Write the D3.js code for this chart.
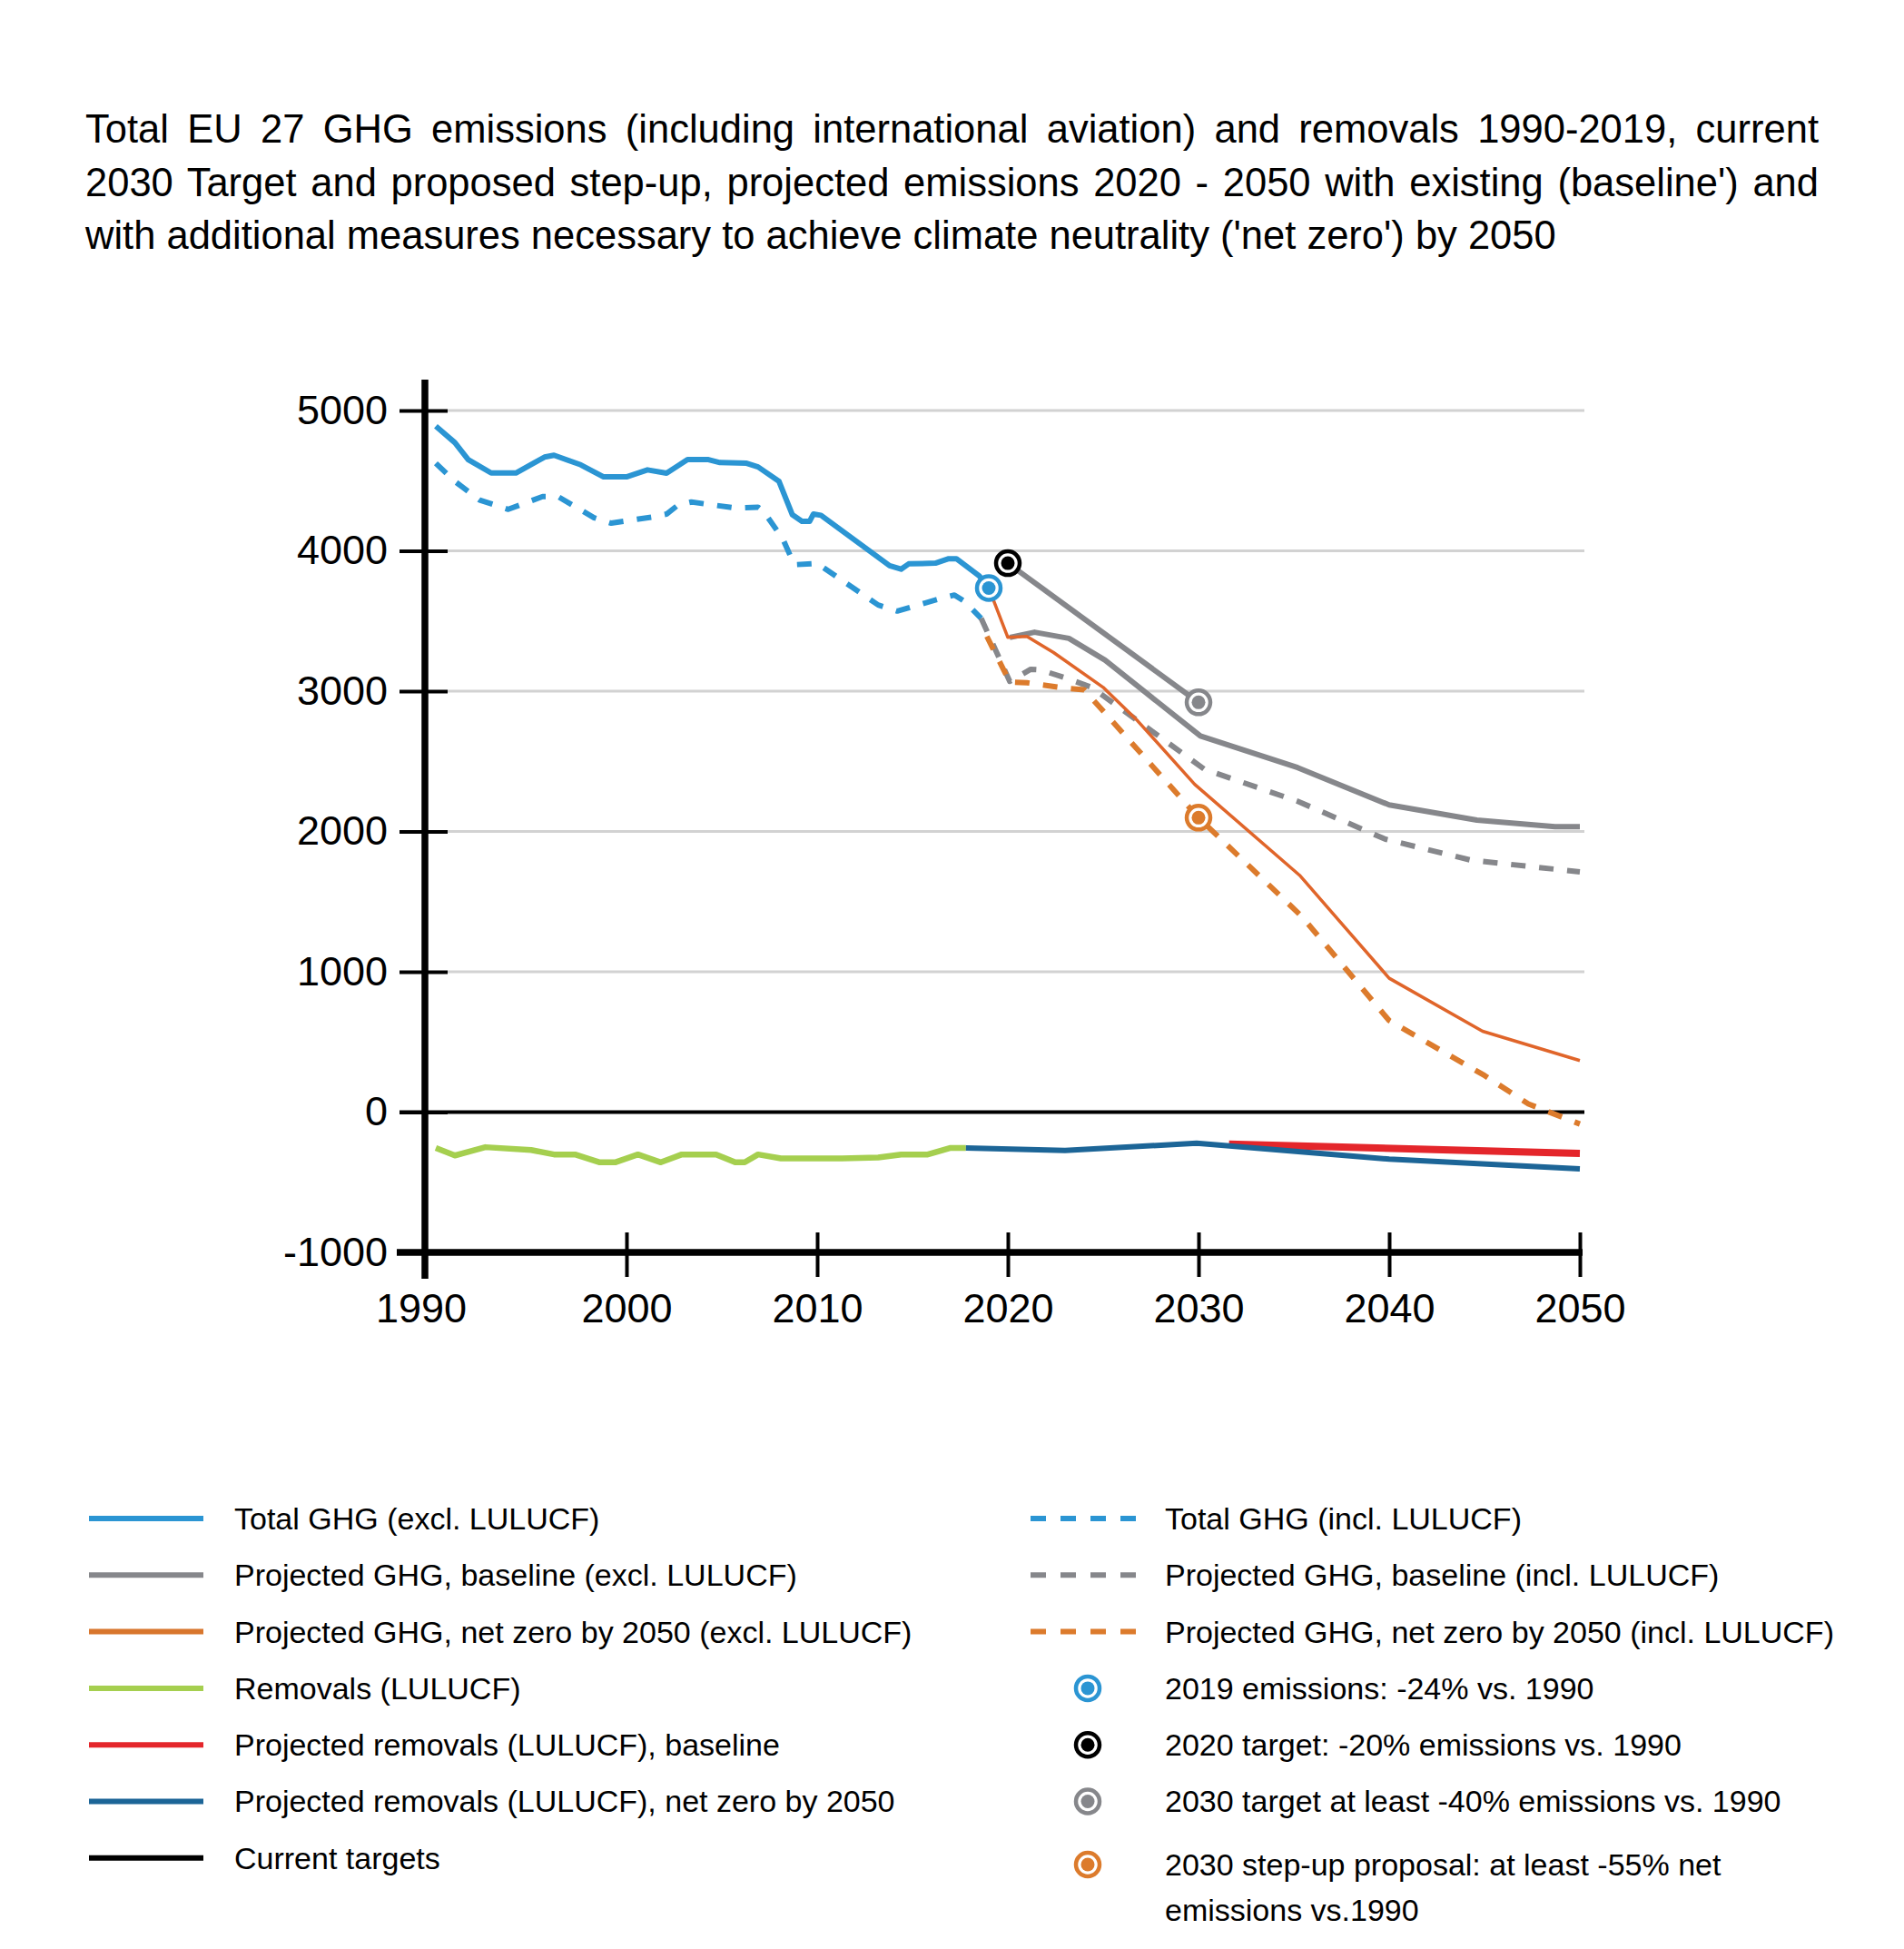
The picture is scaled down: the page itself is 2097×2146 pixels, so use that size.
<!DOCTYPE html>
<html>
<head>
<meta charset="utf-8">
<script src="https://cdn.jsdelivr.net/npm/d3@7"></script>
<style>
  body { margin: 0; background: #fff; }
  svg { display: block; }
  text { font-family: "Liberation Sans", Arial, sans-serif; fill: #000; }
</style>
</head>
<body>
<svg id="chart"></svg>
<script>
const width = 2097;
const height = 2146;

// values, [year, Mt CO2e]
const totalExcl = [[1990, 4888], [1991, 4771], [1991.7, 4650], [1992.9, 4555], [1994.2, 4555], [1995.7, 4668],
  [1996.2, 4681], [1997.6, 4613], [1998.8, 4527], [2000, 4527], [2001.1, 4577], [2002.1, 4553], [2003.2, 4650],
  [2004.3, 4650], [2004.9, 4629], [2006.3, 4624], [2006.9, 4598], [2008, 4495], [2008.7, 4257], [2009.2, 4210],
  [2009.6, 4210], [2009.8, 4262], [2010.2, 4253], [2013.8, 3894], [2014.4, 3869], [2014.8, 3907], [2016.2, 3912],
  [2016.9, 3944], [2017.3, 3944], [2018.5, 3821], [2019, 3735]];
const totalIncl = [[1990, 4624], [1991, 4495], [1992.3, 4361], [1993.8, 4296], [1995.6, 4387], [1996.4, 4387],
  [1998.3, 4236], [1999.2, 4197], [2001.3, 4240], [2002.1, 4262], [2002.7, 4326], [2003.4, 4348], [2005.7, 4305],
  [2006.9, 4311], [2007.2, 4279], [2008.2, 4085], [2008.8, 3901], [2010, 3910], [2013.2, 3614], [2014.2, 3571],
  [2016.3, 3653], [2017.2, 3685], [2017.7, 3642], [2018.6, 3519]];
const baselineExcl = [[2020.1, 3383], [2021.4, 3420], [2023.2, 3376], [2025.1, 3221], [2030.1, 2680],
  [2035.2, 2455], [2040, 2189], [2044.6, 2081], [2048.7, 2034], [2050, 2034]];
const baselineIncl = [[2018.6, 3519], [2020.1, 3070], [2021.2, 3156], [2021.7, 3152], [2023.1, 3091],
  [2024.4, 3027], [2030.3, 2444], [2035.2, 2215], [2039.8, 1945], [2044.3, 1795], [2050, 1712]];
const netZeroExcl = [[2019, 3735], [2020, 3383], [2021, 3390], [2022.4, 3275], [2025, 3027], [2026.8, 2789],
  [2029.8, 2336], [2035.3, 1688], [2040, 954], [2044.9, 576], [2050, 367]];
const netZeroIncl = [[2018.9, 3390], [2020.1, 3065], [2021, 3060], [2023.1, 3020], [2024, 3010], [2030, 2098],
  [2035.4, 1397], [2040, 652], [2045, 261], [2047.3, 58], [2050, -85]];
const removals = [[1990, -255], [1991, -309], [1992.6, -250], [1995, -270], [1996.2, -302], [1997.3, -302],
  [1998.6, -358], [1999.4, -358], [2000.6, -302], [2001.8, -358], [2002.9, -302], [2004.7, -302], [2005.7, -358],
  [2006.2, -358], [2006.9, -302], [2008.1, -330], [2011.3, -330], [2013.2, -323], [2014.4, -302], [2015.8, -302],
  [2017, -255], [2017.8, -255]];
const removalsBaseline = [[2031.6, -228], [2050, -295]];
const removalsNetZero = [[2017.8, -255], [2023, -273], [2029.9, -222], [2040, -335], [2050, -405]];
const currentTargets = [[2020, 3912], [2030, 2920]];
const markerPoints = [[2019, 3735], [2020, 3912], [2030, 2920], [2030, 2098]];

const xTicks = [1990, 2000, 2010, 2020, 2030, 2040, 2050];
const yTicks = [-1000, 0, 1000, 2000, 3000, 4000, 5000];

const titleLines = [
  "Total EU 27 GHG emissions (including international aviation) and removals 1990-2019, current",
  "2030 Target and proposed step-up, projected emissions 2020 - 2050 with existing (baseline') and",
  "with additional measures necessary to achieve climate neutrality ('net zero') by 2050"
];
const legendLeft = ["Total GHG (excl. LULUCF)", "Projected GHG, baseline (excl. LULUCF)",
  "Projected GHG, net zero by 2050 (excl. LULUCF)", "Removals (LULUCF)", "Projected removals (LULUCF), baseline",
  "Projected removals (LULUCF), net zero by 2050", "Current targets"];
const legendRight = ["Total GHG (incl. LULUCF)", "Projected GHG, baseline (incl. LULUCF)",
  "Projected GHG, net zero by 2050 (incl. LULUCF)", "2019 emissions: -24% vs. 1990",
  "2020 target: -20% emissions vs. 1990", "2030 target at least -40% emissions vs. 1990",
  "2030 step-up proposal: at least -55% net|emissions vs.1990"];

const blue = "#2b95d3", grey = "#86878b", orange = "#e0652a", orangeDash = "#dc7b2c",
  green = "#a5cf4f", red = "#e4262b", darkBlue = "#1c6597";

const svg = d3.select('#chart')
    .attr('width', width)
    .attr('height', height);

const x = d3.scaleLinear().domain([1990, 2050]).range([480, 1740]);
const y = d3.scaleLinear().domain([-1000, 5000]).range([1379, 452]);
const axisX = x(1990) - 12;
const plotRight = 1745;

// title, first two lines justified
titleLines.forEach(function(t, i) {
  const el = svg.append('text')
      .attr('x', 94)
      .attr('y', 157 + i * 58.5)
      .style('font-size', '43.5px')
      .text(t);
  if (i < 2) {
    const w = el.node().getComputedTextLength();
    const spaces = t.split(' ').length - 1;
    el.attr('word-spacing', (1909 - w) / spaces);
  }
});

// gridlines
svg.append('g').selectAll('line')
    .data(yTicks.filter(d => d > 0))
    .enter().append('line')
    .attr('x1', axisX + 25).attr('x2', plotRight)
    .attr('y1', d => y(d)).attr('y2', d => y(d))
    .attr('stroke', '#d2d2d2').attr('stroke-width', 3);

// zero line
svg.append('line')
    .attr('x1', axisX - 28).attr('x2', plotRight)
    .attr('y1', y(0)).attr('y2', y(0))
    .attr('stroke', '#000').attr('stroke-width', 4);

// y axis
const yAxis = svg.append('g')
    .attr('transform', 'translate(' + (axisX + 25) + ',0)')
    .call(d3.axisLeft(y).tickValues(yTicks).tickSize(53).tickPadding(13).tickFormat(d => String(d)));
yAxis.select('.domain').remove();
yAxis.selectAll('line').attr('stroke', '#000').attr('stroke-width', 4);
yAxis.selectAll('text').style('font-size', '45px').attr('fill', '#000');
yAxis.attr('font-family', null).attr('font-size', null);

svg.append('line')
    .attr('x1', axisX).attr('x2', axisX)
    .attr('y1', 418).attr('y2', 1408)
    .attr('stroke', '#000').attr('stroke-width', 7.5);

// x axis
svg.append('line')
    .attr('x1', axisX - 31).attr('x2', 1743)
    .attr('y1', y(-1000)).attr('y2', y(-1000))
    .attr('stroke', '#000').attr('stroke-width', 7.5);
const xAxis = svg.append('g')
    .attr('transform', 'translate(0,' + (y(-1000) - 22) + ')')
    .call(d3.axisBottom(x).tickValues(xTicks).tickSize(49).tickPadding(18).tickFormat(d => String(d)));
xAxis.select('.domain').remove();
xAxis.selectAll('line').attr('stroke', '#000').attr('stroke-width', 4);
xAxis.selectAll('text').style('font-size', '45px').attr('fill', '#000');
xAxis.attr('font-family', null).attr('font-size', null);
xAxis.selectAll('.tick').filter(d => d === 1990)
    .attr('transform', 'translate(' + (axisX - 4) + ',0)')
    .select('line').remove();

const line = d3.line()
    .x(d => x(d[0]))
    .y(d => y(d[1]));

const series = [
  {data: removals, color: green, w: 6.5},
  {data: removalsBaseline, color: red, w: 8},
  {data: removalsNetZero, color: darkBlue, w: 6},
  {data: totalIncl, color: blue, w: 6, dash: '16,15'},
  {data: totalExcl, color: blue, w: 6},
  {data: baselineIncl, color: grey, w: 6, dash: '16,15'},
  {data: baselineExcl, color: grey, w: 6},
  {data: netZeroIncl, color: orangeDash, w: 6, dash: '16,15'},
  {data: netZeroExcl, color: orange, w: 3.5},
  {data: currentTargets, color: grey, w: 6}
];

svg.append('g').selectAll('path')
    .data(series)
    .enter().append('path')
    .attr('d', d => line(d.data))
    .attr('fill', 'none')
    .attr('stroke', d => d.color)
    .attr('stroke-width', d => d.w)
    .attr('stroke-dasharray', d => d.dash || null)
    .attr('stroke-linejoin', 'round');

const markerColors = [blue, '#000', grey, orangeDash];

function marker(g, cx, cy, color) {
  g.append('circle').attr('cx', cx).attr('cy', cy).attr('r', 13)
      .attr('fill', '#fff').attr('stroke', color).attr('stroke-width', 4.5);
  g.append('circle').attr('cx', cx).attr('cy', cy).attr('r', 7.5).attr('fill', color);
}

const markers = svg.append('g');
markerPoints.forEach(function(p, i) {
  marker(markers, x(p[0]), y(p[1]), markerColors[i]);
});

// legend
const leftColors = [blue, grey, '#d8762d', green, red, darkBlue, '#000'];
const rightColors = [blue, grey, orangeDash];
const legend = svg.append('g').style('font-size', '34px');
const rowY = i => 1672 + i * 62.3;

legendLeft.forEach(function(t, i) {
  legend.append('line')
      .attr('x1', 98).attr('x2', 224)
      .attr('y1', rowY(i)).attr('y2', rowY(i))
      .attr('stroke', leftColors[i]).attr('stroke-width', 6);
  legend.append('text').attr('x', 258).attr('y', rowY(i)).attr('dy', '0.35em').text(t);
});

legendRight.forEach(function(t, i) {
  let cy = rowY(i);
  if (i < 3) {
    legend.append('line')
        .attr('x1', 1135).attr('x2', 1252)
        .attr('y1', cy).attr('y2', cy)
        .attr('stroke', rightColors[i]).attr('stroke-width', 6)
        .attr('stroke-dasharray', '17,16');
  } else {
    if (i === 6) cy = 2053;
    marker(legend, 1198, cy, markerColors[i - 3]);
  }
  t.split('|').forEach(function(part, j) {
    legend.append('text').attr('x', 1283).attr('y', cy + j * 50).attr('dy', '0.35em').text(part);
  });
});
</script>
</body>
</html>
